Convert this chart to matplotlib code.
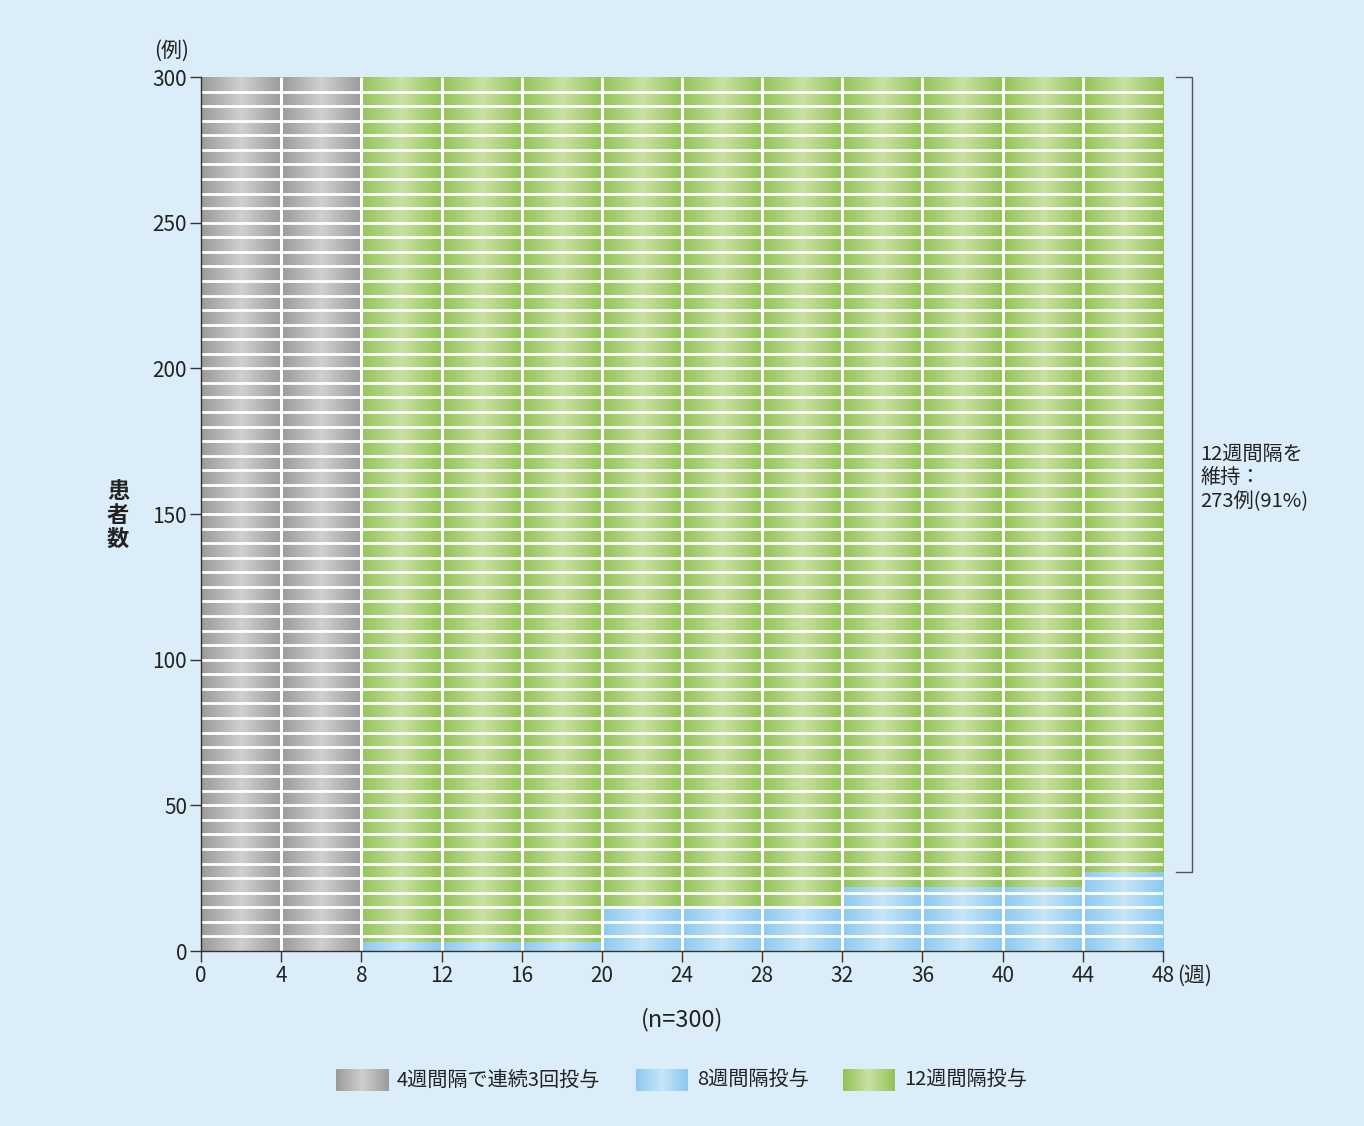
import matplotlib.pyplot as plt
import numpy as np
from matplotlib.colors import LinearSegmentedColormap

plt.rcParams['font.family'] = ['Noto Sans CJK JP', 'DejaVu Sans']

BG = '#dcedfa'

# data (patients per 4-week interval)
week_starts = [0, 4, 8, 12, 16, 20, 24, 28, 32, 36, 40, 44]
gray_n = [300, 300, 0, 0, 0, 0, 0, 0, 0, 0, 0, 0]
blue_n = [0, 0, 3, 3, 3, 15, 15, 15, 22, 22, 22, 27]
green_n = [0, 0, 297, 297, 297, 285, 285, 285, 278, 278, 278, 273]
x_ticks = [0, 4, 8, 12, 16, 20, 24, 28, 32, 36, 40, 44, 48]
y_ticks = [0, 50, 100, 150, 200, 250, 300]
legend_labels = ['4週間隔で連続3回投与', '8週間隔投与', '12週間隔投与']

cmaps = {
    'gray': LinearSegmentedColormap.from_list('g', ['#9a9a9a', '#d0d0d0', '#9a9a9a']),
    'blue': LinearSegmentedColormap.from_list('b', ['#8bc9ef', '#c6e5f8', '#8bc9ef']),
    'green': LinearSegmentedColormap.from_list('gr', ['#92c357', '#c9e1a2', '#92c357']),
}
grad = np.linspace(0, 1, 256).reshape(1, -1)


def gradient_bars(ax, bars, cmap):
    for b in bars:
        if b.get_height() <= 0:
            continue
        x0, y0 = b.get_x(), b.get_y()
        im = ax.imshow(grad, extent=[x0, x0 + b.get_width(), y0, y0 + b.get_height()],
                       cmap=cmap, aspect='auto', zorder=1, interpolation='bilinear')
        im.set_clip_path(b)


fig = plt.figure(figsize=(13.64, 11.26), dpi=100, facecolor=BG)
ax = fig.add_axes([0.1474, 0.1554, 0.7052, 0.7762])
ax.set_facecolor(BG)

bottom = np.zeros(len(week_starts))
for vals, key in [(gray_n, 'gray'), (blue_n, 'blue'), (green_n, 'green')]:
    bars = ax.bar(week_starts, vals, width=4, bottom=bottom, align='edge',
                  color='none', edgecolor='none', zorder=1)
    gradient_bars(ax, bars, cmaps[key])
    bottom += np.array(vals)

# white stripes
ax.hlines(np.arange(5, 300, 5), 0, 48, color='white', lw=2.0, zorder=2)
ax.vlines(x_ticks[1:-1], 0, 300, color='white', lw=2.2, zorder=2)

ax.set_xlim(0, 48)
ax.set_ylim(0, 300)
ax.set_xticks(x_ticks)
ax.set_yticks(y_ticks)
ax.tick_params(axis='both', direction='out', length=8, width=1, color='#333333',
               labelsize=15, pad=2, labelcolor='#222222')
for s in ['top', 'right']:
    ax.spines[s].set_visible(False)
for s in ['left', 'bottom']:
    ax.spines[s].set_color('#333333')
    ax.spines[s].set_linewidth(1)
    ax.spines[s].set_zorder(3)

ax.annotate('(週)', xy=(48, 0), xytext=(10, -18), textcoords='offset points',
            ha='left', va='center', fontsize=15, color='#222222', annotation_clip=False)

# bracket for maintained 12-week interval
kw = dict(color='#555555', lw=1, clip_on=False)
ax.plot([48.65, 49.45, 49.45, 48.65], [300, 300, 27, 27], **kw)
ax.text(49.85, 174, '12週間隔を\n維持：\n273例(91%)', ha='left', va='top',
        fontsize=14.5, color='#222222', linespacing=1.15)

fig.text(172 / 1364, 1 - 51 / 1126, '(例)', ha='center', va='center',
         fontsize=15, color='#222222')
fig.text(118 / 1364, 1 - 515 / 1126, '患\n者\n数', ha='center', va='center',
         fontsize=16, fontweight='bold', color='#222222', linespacing=1.05)
fig.text(682 / 1364, 1 - 1020 / 1126, '(n=300)', ha='center', va='center',
         fontsize=17, color='#222222')

# legend
swatches = [(336, 'gray'), (636, 'blue'), (843, 'green')]
for (px, key), label in zip(swatches, legend_labels):
    lax = fig.add_axes([px / 1364, 1 - 1091 / 1126, 52 / 1364, 22 / 1126])
    lax.imshow(grad, cmap=cmaps[key], aspect='auto', interpolation='bilinear')
    lax.axis('off')
    fig.text((px + 61) / 1364, 1 - 1080 / 1126, label, ha='left', va='center',
             fontsize=14.5, color='#222222')

fig.savefig('out.png', dpi=100, facecolor=BG)
